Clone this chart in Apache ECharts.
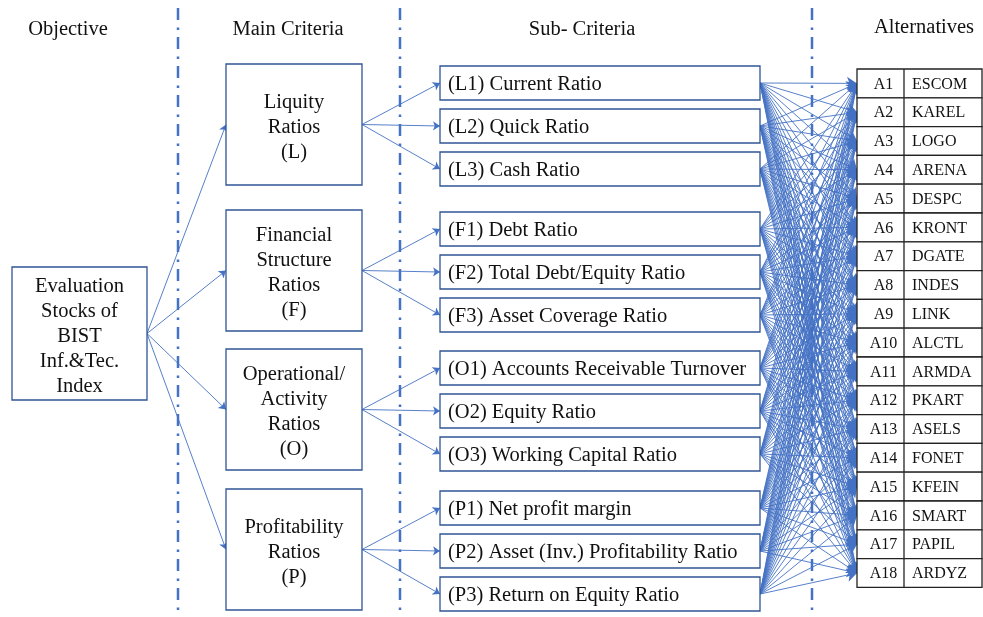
<!DOCTYPE html>
<html>
<head>
<meta charset="utf-8">
<script src="https://cdn.jsdelivr.net/npm/echarts@6/dist/echarts.min.js"></script>
<style>
  html, body { margin: 0; background: #fff; }
  #chart { width: 983px; height: 617px; }
</style>
</head>
<body>
<div id="chart"></div>
<script>
// hierarchy content
var headers = ['Objective', 'Main Criteria', 'Sub- Criteria', 'Alternatives']
var objective = 'Evaluation\nStocks of\nBIST\nInf.&Tec.\nIndex'
var mainCriteria = [
  'Liquity\nRatios\n(L)',
  'Financial\nStructure\nRatios\n(F)',
  'Operational/\nActivity\nRatios\n(O)',
  'Profitability\nRatios\n(P)'
]
var subCriteria = [
  ['(L1) Current Ratio', '(L2) Quick Ratio', '(L3) Cash Ratio'],
  ['(F1) Debt Ratio', '(F2) Total Debt/Equity Ratio', '(F3) Asset Coverage Ratio'],
  ['(O1) Accounts Receivable Turnover', '(O2) Equity Ratio', '(O3) Working Capital Ratio'],
  ['(P1) Net profit margin', '(P2) Asset (Inv.) Profitability Ratio', '(P3) Return on Equity Ratio']
]
var altCodes = ['A1', 'A2', 'A3', 'A4', 'A5', 'A6', 'A7', 'A8', 'A9', 'A10', 'A11', 'A12', 'A13', 'A14', 'A15', 'A16', 'A17', 'A18']
var altNames = ['ESCOM', 'KAREL', 'LOGO', 'ARENA', 'DESPC', 'KRONT', 'DGATE', 'INDES', 'LINK', 'ALCTL', 'ARMDA', 'PKART', 'ASELS', 'FONET', 'KFEIN', 'SMART', 'PAPIL', 'ARDYZ']

// layout (pixel-like units of the hidden axes)
var FONT = '"Liberation Serif", "Times New Roman", serif'
var BLUE = '#4472C4'
var BOX = '#2F5597'
var headerX = [68, 288, 582, 924]
var dividerX = [178, 400, 812]
var objBox = [12, 267, 147, 400]
var mainX = [226, 362]
var mainTop = [64, 210, 349, 489]
var MAIN_H = 121
var subX = [440, 760]
var SUB_H = 34
var SUB_STEP = 43
var altX = [857, 904, 982]
var ALT_TOP = 69
var ALT_H = 28.8

var boxes = []
var arrows = []
var fanLines = []
var objMid = (objBox[1] + objBox[3]) / 2
boxes.push({ value: objBox, text: objective, left: false })
var subMids = []
mainCriteria.forEach(function(t, g) {
  var y0 = mainTop[g]
  var mid = y0 + MAIN_H / 2
  boxes.push({ value: [mainX[0], y0, mainX[1], y0 + MAIN_H], text: t, left: false })
  arrows.push({ coords: [[objBox[2], objMid], [mainX[0], mid]] })
  subCriteria[g].forEach(function(s, i) {
    var sy = y0 + 2 + i * SUB_STEP
    var smid = sy + SUB_H / 2
    boxes.push({ value: [subX[0], sy, subX[1], sy + SUB_H], text: s, left: true })
    arrows.push({ coords: [[mainX[1], mid], [subX[0], smid]] })
    subMids.push(smid)
  })
})
var rows = altCodes.map(function(c, k) {
  return { value: [altX[0], ALT_TOP + k * ALT_H, altX[2], ALT_TOP + (k + 1) * ALT_H], code: c, name: altNames[k] }
})
subMids.forEach(function(sm) {
  rows.forEach(function(r) {
    fanLines.push({ coords: [[subX[1], sm], [altX[0], (r.value[1] + r.value[3]) / 2]] })
  })
})

function rectOf(api) {
  var p0 = api.coord([api.value(0), api.value(1)])
  var p1 = api.coord([api.value(2), api.value(3)])
  return { x: p0[0], y: p0[1], width: p1[0] - p0[0], height: p1[1] - p0[1] }
}

var chart = echarts.init(document.getElementById('chart'))
chart.setOption({
  animation: false,
  grid: { left: 0, right: 0, top: 0, bottom: 0 },
  xAxis: { type: 'value', min: 0, max: 983, show: false },
  yAxis: { type: 'value', min: 0, max: 617, inverse: true, show: false },
  series: [
    {
      type: 'custom',
      z: 1,
      silent: true,
      data: dividerX.map(function(x) { return [x, 8, x, 617] }),
      encode: { x: [0, 2], y: [1, 3] },
      renderItem: function(params, api) {
        var r = rectOf(api)
        return {
          type: 'line',
          shape: { x1: r.x, y1: r.y, x2: r.x, y2: r.y + r.height },
          style: { stroke: BLUE, lineWidth: 2.5, lineDash: [12, 7.5, 2.5, 7] }
        }
      }
    },
    {
      type: 'lines',
      coordinateSystem: 'cartesian2d',
      z: 2,
      silent: true,
      symbol: ['none', 'arrow'],
      symbolSize: 10,
      lineStyle: { color: BLUE, width: 0.9, opacity: 1, curveness: 0 },
      data: fanLines
    },
    {
      type: 'lines',
      coordinateSystem: 'cartesian2d',
      z: 2,
      silent: true,
      symbol: ['none', 'arrow'],
      symbolSize: 7,
      lineStyle: { color: BLUE, width: 0.9, opacity: 1, curveness: 0 },
      data: arrows
    },
    {
      type: 'custom',
      z: 3,
      silent: true,
      data: boxes,
      encode: { x: [0, 2], y: [1, 3] },
      renderItem: function(params, api) {
        var r = rectOf(api)
        var b = boxes[params.dataIndex]
        return {
          type: 'group',
          children: [
            { type: 'rect', shape: r, style: { fill: '#fff', stroke: BOX, lineWidth: 1.3 } },
            {
              type: 'text',
              style: {
                text: b.text,
                x: b.left ? r.x + 8 : r.x + r.width / 2,
                y: r.y + r.height / 2 + (b.left ? 1.5 : 3),
                align: b.left ? 'left' : 'center',
                verticalAlign: 'middle',
                fill: '#111',
                font: '20.5px ' + FONT,
                lineHeight: 25
              }
            }
          ]
        }
      }
    },
    {
      type: 'custom',
      z: 4,
      silent: true,
      data: rows,
      encode: { x: [0, 2], y: [1, 3] },
      renderItem: function(params, api) {
        var r = rectOf(api)
        var row = rows[params.dataIndex]
        var sep = api.coord([altX[1], 0])[0]
        return {
          type: 'group',
          children: [
            { type: 'rect', shape: r, style: { fill: '#fff', stroke: '#222', lineWidth: 1.3 } },
            { type: 'line', shape: { x1: sep, y1: r.y, x2: sep, y2: r.y + r.height }, style: { stroke: '#222', lineWidth: 1.3 } },
            {
              type: 'text',
              style: { text: row.code, x: (r.x + sep) / 2 + 3, y: r.y + r.height / 2 + 1, align: 'center', verticalAlign: 'middle', fill: '#111', font: '16px ' + FONT }
            },
            {
              type: 'text',
              style: { text: row.name, x: sep + 8, y: r.y + r.height / 2 + 1, align: 'left', verticalAlign: 'middle', fill: '#111', font: '16px ' + FONT }
            }
          ]
        }
      }
    },
    {
      type: 'custom',
      z: 4,
      silent: true,
      data: headers.map(function(h, i) { return [headerX[i], i === 3 ? 28 : 30] }),
      encode: { x: 0, y: 1 },
      renderItem: function(params, api) {
        var p = api.coord([api.value(0), api.value(1)])
        return {
          type: 'text',
          style: { text: headers[params.dataIndex], x: p[0], y: p[1], align: 'center', verticalAlign: 'middle', fill: '#111', font: '20.5px ' + FONT }
        }
      }
    }
  ]
})
</script>
</body>
</html>
